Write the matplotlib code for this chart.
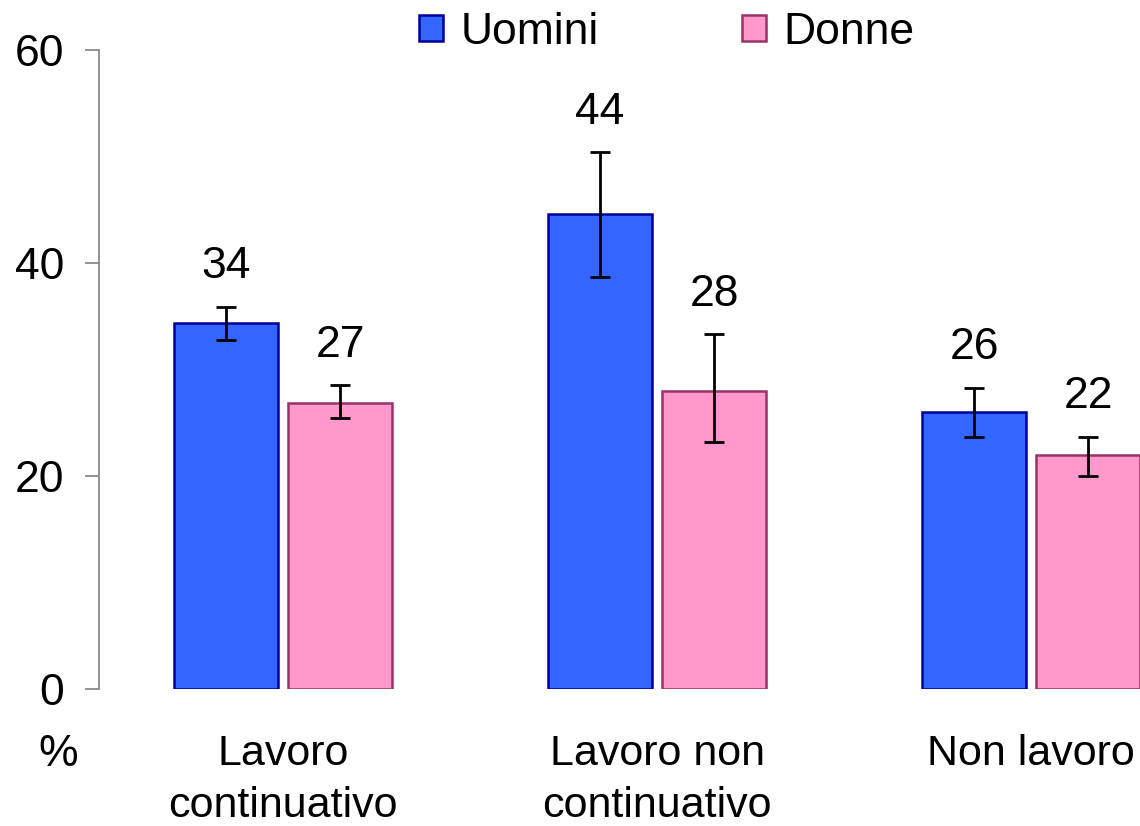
import matplotlib
matplotlib.use('Agg')
import matplotlib.pyplot as plt
import numpy as np

plt.rcParams['font.family'] = ['Liberation Sans', 'DejaVu Sans']

# dati
categorie = ['Lavoro\ncontinuativo', 'Lavoro non\ncontinuativo', 'Non lavoro']
uomini = [34.4, 44.6, 26.0]
donne = [26.9, 28.0, 22.0]
uomini_lo = [32.8, 38.7, 23.7]
uomini_hi = [35.9, 50.4, 28.3]
donne_lo = [25.4, 23.2, 20.0]
donne_hi = [28.5, 33.3, 23.7]
etichette_uomini = ['34', '44', '26']
etichette_donne = ['27', '28', '22']

fig = plt.figure(figsize=(11.4, 8.26), dpi=100)
ax = fig.add_axes([99/1140, 137/826, 1 - 99/1140, (689-50)/826])

x = np.arange(len(categorie))
w = 0.278
off = 0.1525

b1 = ax.bar(x - off, uomini, w, color='#3366ff', edgecolor='#000099', linewidth=1.8, label='Uomini')
b2 = ax.bar(x + off, donne, w, color='#ff99cc', edgecolor='#993366', linewidth=1.8, label='Donne')

err_u = [np.array(uomini) - np.array(uomini_lo), np.array(uomini_hi) - np.array(uomini)]
err_d = [np.array(donne) - np.array(donne_lo), np.array(donne_hi) - np.array(donne)]
ax.errorbar(x - off, uomini, yerr=err_u, fmt='none', ecolor='black', elinewidth=2, capsize=7.5, capthick=2)
ax.errorbar(x + off, donne, yerr=err_d, fmt='none', ecolor='black', elinewidth=2, capsize=7.5, capthick=2)

for xi, hi, t in zip(x - off, uomini_hi, etichette_uomini):
    ax.text(xi, hi + 1.8, t, ha='center', va='bottom', fontsize=32)
for xi, hi, t in zip(x + off, donne_hi, etichette_donne):
    ax.text(xi, hi + 1.8, t, ha='center', va='bottom', fontsize=32)

ax.set_xlim(-0.492, 2.291)
ax.set_ylim(0, 60)
ax.set_yticks([0, 20, 40, 60])
ax.tick_params(axis='y', labelsize=32, length=10, width=1.2, color='#808080', pad=15)
ax.set_xticks([])
for s in ['top', 'right', 'bottom']:
    ax.spines[s].set_visible(False)
ax.spines['left'].set_color('#808080')
ax.spines['left'].set_linewidth(1.2)

for xi, c in zip(x, categorie):
    ax.text(xi, -4.2, c, ha='center', va='top', fontsize=31, linespacing=1.4)
ax.text(-0.6, -4.2, '%', ha='center', va='top', fontsize=32)

fig.legend(handles=[b1, b2], loc='center', bbox_to_anchor=(0.585, 0.961), ncol=2,
           frameon=False, fontsize=32, handlelength=0.55, handleheight=0.55,
           handletextpad=0.4, columnspacing=3.2, borderaxespad=0)

fig.savefig('out.png', dpi=100)
